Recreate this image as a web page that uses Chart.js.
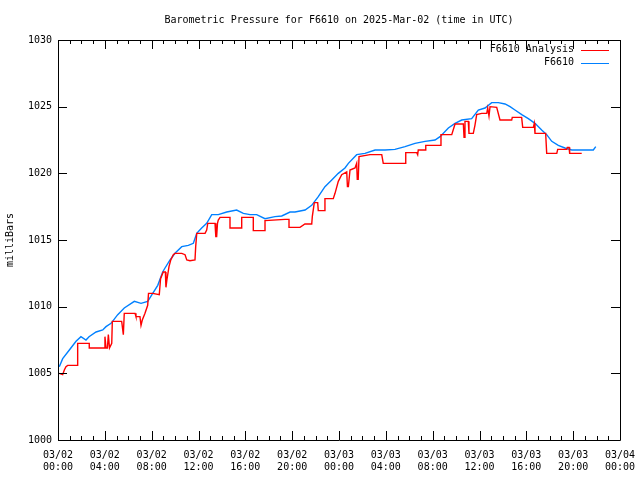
<!DOCTYPE html>
<html>
<head>
<meta charset="utf-8">
<script src="https://cdn.jsdelivr.net/npm/chart.js@4/dist/chart.umd.min.js"></script>
<style>
  body { margin: 0; background: #fff; }
</style>
</head>
<body>
<canvas id="pressureChart" width="640" height="480"></canvas>
<script>
// hours since 03/02 00:00 UTC, pressure in milliBars
const analysisHours = [0.11, 0.40, 0.54, 0.68, 0.83, 1.68, 1.68, 2.67, 2.67, 3.82, 3.93, 4.01, 4.10, 4.22, 4.30, 4.40, 4.59, 4.64, 5.44, 5.58, 5.66, 6.58, 6.66, 7.00, 7.09, 7.20, 7.43, 7.66, 7.73, 8.09, 8.65, 8.76, 8.99, 9.17, 9.22, 9.30, 9.48, 9.63, 9.85, 9.99, 10.57, 10.85, 11.00, 11.27, 11.70, 11.76, 11.85, 12.56, 12.70, 12.79, 13.41, 13.48, 13.55, 13.62, 13.69, 13.84, 14.69, 14.69, 15.69, 15.69, 16.68, 16.68, 17.68, 17.68, 19.39, 19.73, 19.73, 20.67, 21.09, 21.67, 21.72, 21.89, 22.18, 22.23, 22.75, 22.80, 23.51, 23.66, 23.94, 24.23, 24.66, 24.72, 24.80, 24.94, 25.37, 25.51, 25.56, 25.64, 25.71, 26.65, 27.65, 27.78, 29.64, 29.70, 30.64, 30.72, 30.77, 31.35, 31.41, 32.63, 32.71, 33.63, 33.91, 34.62, 34.68, 34.76, 35.04, 35.10, 35.47, 35.61, 35.76, 36.19, 36.62, 36.70, 36.81, 36.90, 37.47, 37.75, 38.75, 38.80, 39.60, 39.69, 40.60, 40.68, 40.74, 41.65, 41.74, 42.60, 42.68, 43.45, 43.50, 43.65, 43.70, 44.73];
const analysisPressure = [1005.0, 1004.9, 1005.25, 1005.5, 1005.6, 1005.6, 1007.25, 1007.25, 1006.9, 1006.9, 1006.9, 1007.75, 1006.9, 1006.9, 1007.9, 1006.9, 1007.25, 1008.9, 1008.9, 1007.9, 1009.5, 1009.5, 1009.25, 1009.25, 1008.6, 1009.0, 1009.5, 1010.1, 1011.0, 1011.0, 1010.9, 1012.1, 1012.6, 1012.6, 1011.45, 1012.0, 1013.0, 1013.5, 1013.9, 1014.0, 1014.0, 1013.9, 1013.5, 1013.45, 1013.5, 1014.5, 1015.5, 1015.5, 1015.75, 1016.25, 1016.25, 1015.25, 1015.25, 1016.25, 1016.5, 1016.7, 1016.7, 1015.9, 1015.9, 1016.7, 1016.7, 1015.7, 1015.7, 1016.45, 1016.55, 1016.55, 1015.95, 1015.95, 1016.2, 1016.2, 1016.75, 1017.8, 1017.8, 1017.2, 1017.2, 1018.1, 1018.1, 1018.5, 1019.4, 1019.9, 1020.1, 1019.0, 1019.0, 1020.25, 1020.4, 1020.75, 1019.55, 1019.55, 1021.25, 1021.4, 1021.4, 1020.75, 1020.75, 1021.55, 1021.55, 1021.4, 1021.75, 1021.75, 1022.1, 1022.1, 1022.9, 1022.9, 1023.7, 1023.7, 1022.7, 1023.9, 1023.9, 1023.0, 1023.0, 1023.6, 1024.4, 1024.5, 1024.5, 1024.9, 1024.3, 1025.0, 1024.95, 1024.0, 1024.0, 1024.2, 1024.2, 1023.45, 1023.45, 1023.75, 1023.0, 1023.0, 1021.5, 1021.5, 1021.8, 1021.8, 1021.95, 1021.95, 1021.5, 1021.5];

const stationHours = [0.11, 0.40, 0.97, 1.54, 1.96, 2.39, 2.65, 3.25, 3.82, 4.10, 4.53, 5.10, 5.66, 6.52, 7.09, 7.66, 8.09, 8.52, 8.94, 9.14, 9.57, 9.99, 10.57, 11.13, 11.56, 11.85, 12.27, 12.70, 13.13, 13.69, 14.41, 15.26, 15.83, 16.40, 16.97, 17.68, 18.53, 19.11, 19.82, 20.24, 21.10, 21.67, 22.23, 22.80, 23.38, 23.94, 24.51, 24.80, 25.51, 26.22, 27.08, 27.93, 28.78, 29.64, 30.49, 31.35, 32.20, 32.63, 33.34, 33.91, 34.48, 35.33, 35.90, 36.47, 37.04, 37.61, 38.18, 38.61, 39.03, 39.61, 40.17, 40.74, 41.31, 41.74, 42.17, 42.73, 43.30, 43.88, 44.73, 45.72, 45.93];
const stationPressure = [1005.5, 1006.1, 1006.75, 1007.4, 1007.75, 1007.5, 1007.75, 1008.1, 1008.25, 1008.5, 1008.75, 1009.4, 1009.9, 1010.4, 1010.25, 1010.4, 1011.0, 1011.6, 1012.6, 1012.9, 1013.5, 1014.0, 1014.5, 1014.6, 1014.75, 1015.5, 1015.9, 1016.25, 1016.9, 1016.9, 1017.1, 1017.25, 1017.0, 1016.9, 1016.9, 1016.6, 1016.75, 1016.8, 1017.1, 1017.1, 1017.25, 1017.6, 1018.25, 1019.0, 1019.5, 1020.0, 1020.4, 1020.75, 1021.4, 1021.5, 1021.75, 1021.75, 1021.8, 1022.0, 1022.25, 1022.4, 1022.5, 1022.75, 1023.4, 1023.75, 1024.0, 1024.1, 1024.75, 1024.9, 1025.3, 1025.3, 1025.2, 1025.0, 1024.75, 1024.4, 1024.1, 1023.75, 1023.25, 1022.9, 1022.4, 1022.1, 1021.9, 1021.75, 1021.75, 1021.75, 1022.0];

const seriesNames = ["F6610 Analysis", "F6610"];
const seriesColors = ["#ff0000", "#0080ff"];
const xTickLabels = [
  ["03/02", "00:00"], ["03/02", "04:00"], ["03/02", "08:00"], ["03/02", "12:00"],
  ["03/02", "16:00"], ["03/02", "20:00"], ["03/03", "00:00"], ["03/03", "04:00"],
  ["03/03", "08:00"], ["03/03", "12:00"], ["03/03", "16:00"], ["03/03", "20:00"],
  ["03/04", "00:00"]
];
const chartTitle = "Barometric Pressure for F6610 on 2025-Mar-02 (time in UTC)";
const yTitle = "milliBars";

const monoFont = { family: "'DejaVu Sans Mono', 'Liberation Mono', monospace", size: 10, weight: "normal" };

function toPoints(xs, ys) {
  return xs.map((x, i) => ({ x: x, y: ys[i] }));
}

// gnuplot style frame with inward ticks on all four sides
const framePlugin = {
  id: "frame",
  afterDraw(chart) {
    const ctx = chart.ctx;
    const a = chart.chartArea;
    const xs = chart.scales.x;
    const ys = chart.scales.y;
    ctx.save();
    ctx.strokeStyle = "#000";
    ctx.lineWidth = 1;
    ctx.beginPath();
    ctx.rect(Math.round(a.left) + 0.5, Math.round(a.top) + 0.5,
      Math.round(a.right - a.left), Math.round(a.bottom - a.top));
    for (let h = 0; h <= 48; h++) {
      const px = Math.round(xs.getPixelForValue(h)) + 0.5;
      const len = h % 4 === 0 ? 9 : 4;
      ctx.moveTo(px, a.bottom);
      ctx.lineTo(px, a.bottom - len);
      ctx.moveTo(px, a.top);
      ctx.lineTo(px, a.top + len);
    }
    ys.ticks.forEach(t => {
      const py = Math.round(ys.getPixelForValue(t.value)) + 0.5;
      ctx.moveTo(a.left, py);
      ctx.lineTo(a.left + 9, py);
      ctx.moveTo(a.right, py);
      ctx.lineTo(a.right - 9, py);
    });
    ctx.stroke();

    // key in the top right corner
    ctx.font = "10px " + monoFont.family;
    ctx.textAlign = "right";
    ctx.textBaseline = "middle";
    chart.data.datasets.forEach((ds, i) => {
      const y = a.top + 9.5 + i * 13;
      ctx.fillStyle = "#000";
      ctx.fillText(ds.label, a.right - 46, y);
      ctx.strokeStyle = ds.borderColor;
      ctx.beginPath();
      ctx.moveTo(a.right - 39, Math.round(y) + 0.5);
      ctx.lineTo(a.right - 11, Math.round(y) + 0.5);
      ctx.stroke();
    });
    ctx.restore();
  }
};

const ctx = document.getElementById("pressureChart").getContext("2d");
new Chart(ctx, {
  type: "line",
  data: {
    datasets: [
      {
        label: seriesNames[0],
        data: toPoints(analysisHours, analysisPressure),
        borderColor: seriesColors[0],
        borderWidth: 1.4,
        pointRadius: 0,
        tension: 0
      },
      {
        label: seriesNames[1],
        data: toPoints(stationHours, stationPressure),
        borderColor: seriesColors[1],
        borderWidth: 1.4,
        pointRadius: 0,
        tension: 0
      }
    ]
  },
  options: {
    responsive: false,
    animation: false,
    layout: { padding: { left: 0, right: 20, top: 0, bottom: 0 } },
    plugins: {
      legend: { display: false },
      tooltip: { enabled: false },
      title: {
        display: true,
        text: chartTitle,
        fullSize: false,
        color: "#000",
        font: monoFont,
        padding: { top: 14, bottom: 14 }
      }
    },
    scales: {
      x: {
        type: "linear",
        min: 0,
        max: 48,
        afterFit: s => {
          s.height = 40;
          s.paddingLeft = 0;
          s.paddingRight = 0;
        },
        grid: { display: false, drawTicks: false },
        border: { display: false },
        ticks: {
          stepSize: 4,
          maxRotation: 0,
          autoSkip: false,
          padding: 9,
          color: "#000",
          font: monoFont,
          callback: v => xTickLabels[v / 4]
        }
      },
      y: {
        min: 1000,
        max: 1030,
        afterFit: s => { s.width = 58; },
        grid: { display: false, drawTicks: false },
        border: { display: false },
        title: {
          display: true,
          text: yTitle,
          color: "#000",
          font: monoFont,
          padding: { top: 4, bottom: 0 }
        },
        ticks: {
          stepSize: 5,
          padding: 6,
          color: "#000",
          font: monoFont,
          callback: v => String(v)
        }
      }
    }
  },
  plugins: [framePlugin]
});
</script>
</body>
</html>
